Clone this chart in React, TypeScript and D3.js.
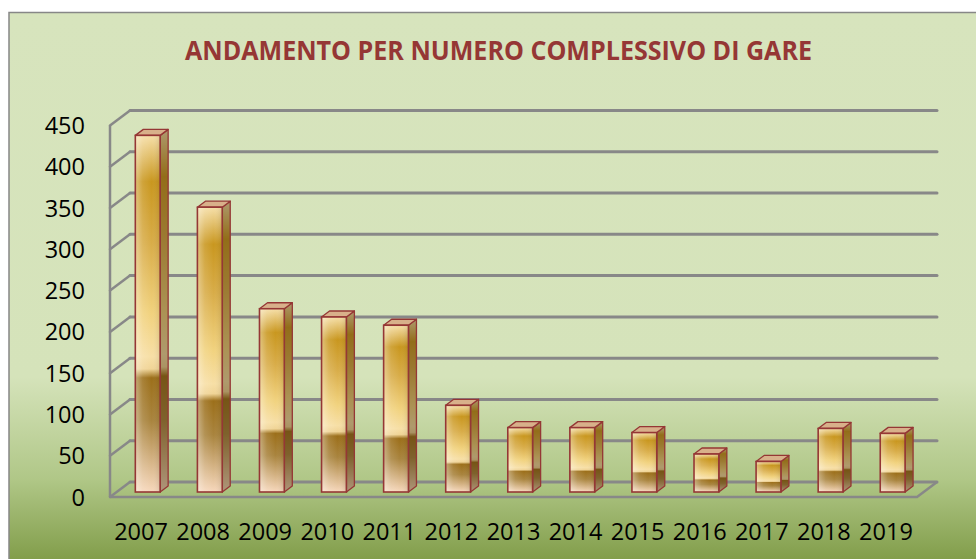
import React from 'react';
import * as d3 from 'd3';

const years = ['2007','2008','2009','2010','2011','2012','2013','2014','2015','2016','2017','2018','2019'];
const values = [432, 345, 222, 212, 202, 105, 78, 78, 72, 46, 37, 77, 71];
const yTicks = [0, 50, 100, 150, 200, 250, 300, 350, 400, 450];
const title = 'ANDAMENTO PER NUMERO COMPLESSIVO DI GARE';

const W = 976, H = 559;
const FRONT_L = 110, FRONT_R = 917;
const BACK = { dx: 20, dy: -15 };
const BARPLANE = { dx: 6.7, dy: -5 };
const DEPTH = { dx: 8, dy: -6 };
const FONT = "'Open Sans', 'Noto Sans', sans-serif";

export default function App() {
  const x = d3.scaleBand<string>().domain(years).range([FRONT_L, FRONT_R]).paddingInner(0.6).paddingOuter(0.3);
  const y = d3.scaleLinear().domain([0, 450]).range([497, 125.5]);
  const bw = x.bandwidth();
  const stroke = '#953735';

  return (
    <svg width={W} height={H} style={{ position: 'absolute', left: 0, top: 0 }}>
      <defs>
        <linearGradient id="bg" x1="0" y1="0" x2="0" y2="1">
          <stop offset="0" stopColor="#D7E4BD" />
          <stop offset="0.64" stopColor="#D5E3BA" />
          <stop offset="0.82" stopColor="#B0C787" />
          <stop offset="1" stopColor="#75923A" />
        </linearGradient>
        <linearGradient id="barV" x1="0" y1="0" x2="0" y2="1">
          <stop offset="0" stopColor="#F6DFA8" />
          <stop offset="0.13" stopColor="#C9971F" />
          <stop offset="0.3" stopColor="#D8AC48" />
          <stop offset="0.5" stopColor="#F1D27E" />
          <stop offset="0.62" stopColor="#F7DFA6" />
          <stop offset="0.655" stopColor="#F0D496" />
          <stop offset="0.68" stopColor="#9C6F1A" />
          <stop offset="0.8" stopColor="#A9843E" />
          <stop offset="1" stopColor="#F7D8BC" />
        </linearGradient>
        <linearGradient id="barH" x1="0" y1="0" x2="1" y2="0">
          <stop offset="0" stopColor="#FFFFFF" stopOpacity="0.4" />
          <stop offset="0.3" stopColor="#FFFFFF" stopOpacity="0.12" />
          <stop offset="0.65" stopColor="#FFFFFF" stopOpacity="0" />
          <stop offset="1" stopColor="#000000" stopOpacity="0.1" />
        </linearGradient>
      </defs>

      <rect x={9} y={12.5} width={W + 10} height={H + 10} fill="url(#bg)" stroke="#878787" strokeWidth={1.5} />

      {/* back wall gridlines */}
      {yTicks.map(t => (
        <line key={'g' + t} x1={FRONT_L + BACK.dx} x2={FRONT_R + BACK.dx}
          y1={y(t) + BACK.dy} y2={y(t) + BACK.dy}
          stroke="#888888" strokeWidth={3} strokeLinecap="round" />
      ))}
      {/* left wall */}
      {yTicks.map(t => (
        <line key={'w' + t} x1={FRONT_L} y1={y(t)} x2={FRONT_L + BACK.dx} y2={y(t) + BACK.dy}
          stroke="#888888" strokeWidth={2.5} strokeLinecap="round" />
      ))}
      <line x1={FRONT_L} x2={FRONT_L} y1={y(450)} y2={y(0)} stroke="#888888" strokeWidth={2.5} />
      {/* floor */}
      <polyline points={`${FRONT_L},${y(0)} ${FRONT_R},${y(0)} ${FRONT_R + BACK.dx},${y(0) + BACK.dy}`}
        fill="none" stroke="#888888" strokeWidth={2.5} strokeLinejoin="round" />

      {/* bars */}
      {years.map((yr, i) => {
        const x0 = (x(yr) as number) + BARPLANE.dx;
        const x1 = x0 + bw;
        const yb = y(0) + BARPLANE.dy;
        const yt = y(values[i]) + BARPLANE.dy;
        const side = `${x1},${yt} ${x1 + DEPTH.dx},${yt + DEPTH.dy} ${x1 + DEPTH.dx},${yb + DEPTH.dy} ${x1},${yb}`;
        const top = `${x0},${yt} ${x0 + DEPTH.dx},${yt + DEPTH.dy} ${x1 + DEPTH.dx},${yt + DEPTH.dy} ${x1},${yt}`;
        return (
          <g key={yr}>
            <polygon points={side} fill="url(#barV)" />
            <polygon points={side} fill="#3A2A10" fillOpacity={0.38} stroke={stroke} strokeWidth={1.3} strokeLinejoin="round" />
            <polygon points={top} fill="#D8B08A" stroke={stroke} strokeWidth={1.3} strokeLinejoin="round" />
            <rect x={x0} y={yt} width={bw} height={yb - yt} fill="url(#barV)" />
            <rect x={x0} y={yt} width={bw} height={yb - yt} fill="url(#barH)" stroke={stroke} strokeWidth={1.6} />
          </g>
        );
      })}

      {/* y labels */}
      {yTicks.map(t => (
        <text key={'l' + t} x={85} y={y(t) + 8.5} textAnchor="end" fontFamily={FONT} fontSize={23.5} fill="#000">{t}</text>
      ))}
      {/* x labels */}
      {years.map(yr => (
        <text key={'x' + yr} x={(x(yr) as number) + bw / 2} y={540} textAnchor="middle" fontFamily={FONT} fontSize={23.5} fill="#000">{yr}</text>
      ))}

      <text x={498.5} y={60} textAnchor="middle" fontFamily={FONT} fontWeight="bold" fontSize={26}
        fill="#953735" textLength={627} lengthAdjust="spacingAndGlyphs">{title}</text>
    </svg>
  );
}
